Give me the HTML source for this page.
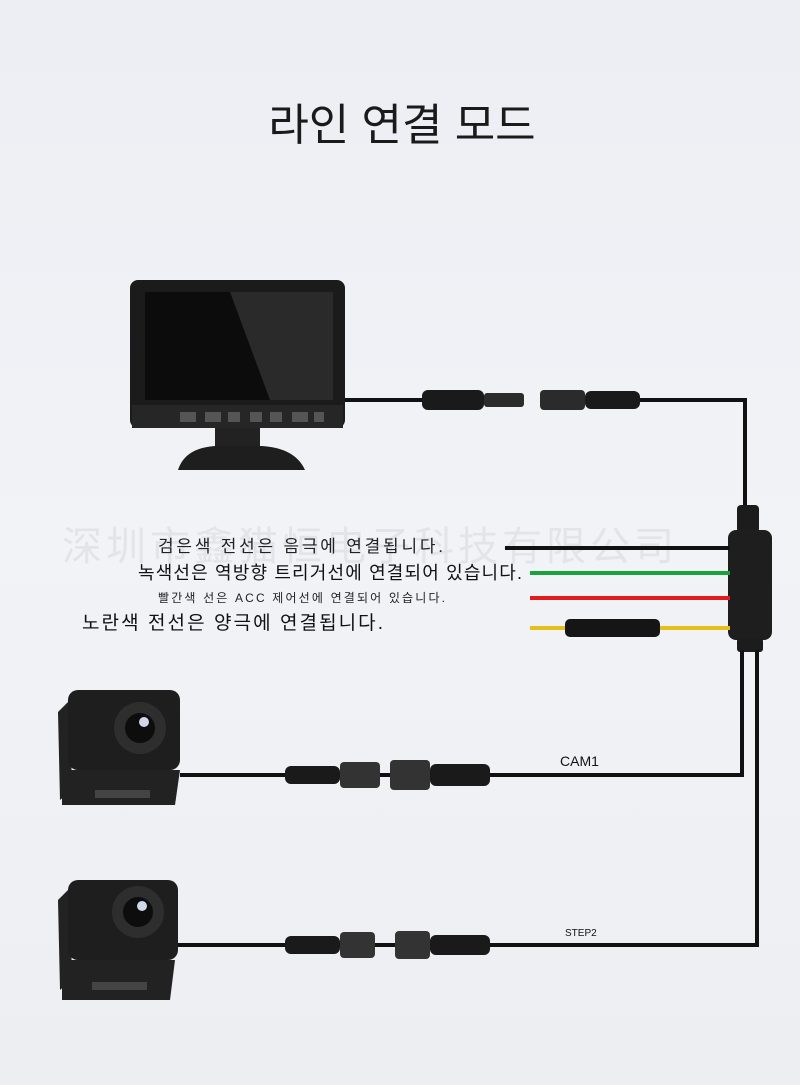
<!DOCTYPE html>
<html><head><meta charset="utf-8">
<style>
html,body{margin:0;padding:0;}
body{width:800px;height:1085px;overflow:hidden;background:linear-gradient(180deg,#eceef3 0%,#f1f3f7 50%,#eceef2 100%);font-family:"Liberation Sans","Noto Sans CJK KR",sans-serif;}
svg{display:block;}
</style></head><body>
<svg width="800" height="1085" viewBox="0 0 800 1085" xmlns="http://www.w3.org/2000/svg">
<text x="402" y="140" text-anchor="middle" font-size="44" fill="#1a1a1a" font-family="Liberation Sans, Noto Sans CJK KR, sans-serif">라인 연결 모드</text>

<!-- watermark -->
<text x="62" y="560" font-size="40" fill="#e2e4e9" font-family="Noto Sans CJK SC, sans-serif" letter-spacing="4">深圳市鑫猫恒电子科技有限公司</text>

<!-- monitor -->
<rect x="130" y="280" width="215" height="148" rx="8" fill="#1b1b1b"/>
<rect x="145" y="292" width="188" height="108" fill="#0c0c0c"/>
<polygon points="230,292 333,292 333,400 270,400" fill="#2a2a2a"/>
<rect x="132" y="405" width="211" height="23" fill="#262626"/>
<g fill="#555"><rect x="180" y="412" width="16" height="10"/><rect x="205" y="412" width="16" height="10"/><rect x="228" y="412" width="12" height="10"/><rect x="250" y="412" width="12" height="10"/><rect x="270" y="412" width="12" height="10"/><rect x="292" y="412" width="16" height="10"/><rect x="314" y="412" width="10" height="10"/></g>
<rect x="215" y="428" width="45" height="22" fill="#222"/>
<path d="M178,470 Q185,448 215,446 L262,446 Q295,448 305,470 Z" fill="#1e1e1e"/>

<!-- monitor cable -->
<path d="M345,400 H425" stroke="#111" stroke-width="4" fill="none"/>
<rect x="422" y="390" width="62" height="20" rx="6" fill="#1a1a1a"/>
<rect x="484" y="393" width="40" height="14" rx="3" fill="#2b2b2b"/>
<rect x="540" y="390" width="45" height="20" rx="4" fill="#2b2b2b"/>
<rect x="585" y="391" width="55" height="18" rx="6" fill="#1a1a1a"/>
<path d="M640,400 H745 V510" stroke="#111" stroke-width="4" fill="none"/>

<!-- junction -->
<rect x="737" y="505" width="22" height="28" rx="4" fill="#1c1c1c"/>
<rect x="728" y="530" width="44" height="110" rx="8" fill="#1e1e1e"/>
<rect x="737" y="638" width="26" height="14" rx="3" fill="#1c1c1c"/>

<!-- colored wires -->
<line x1="505" y1="548" x2="730" y2="548" stroke="#111" stroke-width="4"/>
<line x1="530" y1="573" x2="730" y2="573" stroke="#1aa33a" stroke-width="4"/>
<line x1="530" y1="598" x2="730" y2="598" stroke="#e01c1c" stroke-width="4"/>
<line x1="530" y1="628" x2="730" y2="628" stroke="#e6c01a" stroke-width="4"/>
<rect x="565" y="619" width="95" height="18" rx="5" fill="#151515"/>

<text x="158" y="552" font-size="17" fill="#222" textLength="285">검은색 전선은 음극에 연결됩니다.</text>
<text x="138" y="579" font-size="18" fill="#111" textLength="384">녹색선은 역방향 트리거선에 연결되어 있습니다.</text>
<text x="158" y="602" font-size="12" fill="#222" textLength="287">빨간색 선은 ACC 제어선에 연결되어 있습니다.</text>
<text x="82" y="629" font-size="19" fill="#111" textLength="301">노란색 전선은 양극에 연결됩니다.</text>

<!-- down cables -->
<path d="M742,650 V775 H180" stroke="#111" stroke-width="4" fill="none"/>
<path d="M757,650 V945 H170" stroke="#111" stroke-width="4" fill="none"/>
<text x="560" y="766" font-size="14" fill="#111">CAM1</text>
<text x="565" y="936" font-size="10" fill="#111">STEP2</text>

<!-- CAM1 connectors -->
<rect x="285" y="766" width="55" height="18" rx="6" fill="#1a1a1a"/>
<rect x="340" y="762" width="40" height="26" rx="4" fill="#333"/>
<rect x="390" y="760" width="40" height="30" rx="4" fill="#333"/>
<rect x="430" y="764" width="60" height="22" rx="6" fill="#1a1a1a"/>
<!-- STEP2 connectors -->
<rect x="285" y="936" width="55" height="18" rx="6" fill="#1a1a1a"/>
<rect x="340" y="932" width="35" height="26" rx="4" fill="#333"/>
<rect x="395" y="931" width="35" height="28" rx="4" fill="#333"/>
<rect x="430" y="935" width="60" height="20" rx="6" fill="#1a1a1a"/>

<!-- cameras -->
<g>
<path d="M58,712 L70,700 L72,790 L60,800 Z" fill="#222"/>
<rect x="68" y="690" width="112" height="80" rx="10" fill="#1e1e1e"/>
<circle cx="140" cy="728" r="26" fill="#2e2e2e"/>
<circle cx="140" cy="728" r="15" fill="#0d0d0d"/>
<circle cx="144" cy="722" r="5" fill="#cfd8e8"/>
<path d="M62,770 L180,770 L175,805 L62,805 Z" fill="#222"/>
<rect x="95" y="790" width="55" height="8" fill="#444"/>
</g>
<g>
<path d="M58,900 L70,888 L72,980 L60,990 Z" fill="#222"/>
<rect x="68" y="880" width="110" height="80" rx="10" fill="#1e1e1e"/>
<circle cx="138" cy="912" r="26" fill="#2e2e2e"/>
<circle cx="138" cy="912" r="15" fill="#0d0d0d"/>
<circle cx="142" cy="906" r="5" fill="#cfd8e8"/>
<path d="M62,960 L175,960 L170,1000 L62,1000 Z" fill="#222"/>
<rect x="92" y="982" width="55" height="8" fill="#444"/>
</g>
</svg>
</body></html>
